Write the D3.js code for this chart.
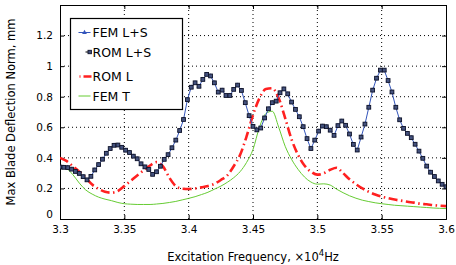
<!DOCTYPE html>
<html>
<head>
<meta charset="utf-8">
<script src="https://cdn.jsdelivr.net/npm/d3@7"></script>
<style>
  body { margin: 0; background: #fff; }
  text { font-family: "DejaVu Sans", sans-serif; fill: #000; }
</style>
</head>
<body>
<div id="chart"></div>
<script>
// frequency grid of the L+S sweeps (x10^4 Hz), step 0.003
var lsFreq = [3.300,3.303,3.306,3.309,3.312,3.315,3.318,3.321,3.324,3.327,
              3.330,3.333,3.336,3.339,3.342,3.345,3.348,3.351,3.354,3.357,
              3.360,3.363,3.366,3.369,3.372,3.375,3.378,3.381,3.384,3.387,
              3.390,3.393,3.396,3.399,3.402,3.405,3.408,3.411,3.414,3.417,
              3.420,3.423,3.426,3.429,3.432,3.435,3.438,3.441,3.444,3.447,
              3.450,3.453,3.456,3.459,3.462,3.465,3.468,3.471,3.474,3.477,
              3.480,3.483,3.486,3.489,3.492,3.495,3.498,3.501,3.504,3.507,
              3.510,3.513,3.516,3.519,3.522,3.525,3.528,3.531,3.534,3.537,
              3.540,3.543,3.546,3.549,3.552,3.555,3.558,3.561,3.564,3.567,
              3.570,3.573,3.576,3.579,3.582,3.585,3.588,3.591,3.594,3.597,3.600];

var femLS = [0.339,0.338,0.336,0.325,0.310,0.298,0.276,0.255,0.278,0.320,
             0.355,0.390,0.430,0.460,0.482,0.483,0.468,0.450,0.435,0.410,
             0.394,0.360,0.340,0.324,0.291,0.308,0.345,0.390,0.420,0.465,
             0.515,0.578,0.650,0.780,0.862,0.890,0.868,0.912,0.945,0.935,
             0.890,0.829,0.842,0.807,0.807,0.847,0.875,0.840,0.760,0.675,
             0.605,0.582,0.594,0.660,0.720,0.760,0.770,0.825,0.850,0.818,
             0.764,0.716,0.668,0.603,0.525,0.460,0.515,0.574,0.607,0.603,
             0.580,0.546,0.610,0.640,0.612,0.555,0.487,0.450,0.535,0.620,
             0.730,0.842,0.920,0.973,0.973,0.905,0.830,0.730,0.648,0.592,
             0.559,0.531,0.488,0.443,0.396,0.345,0.305,0.277,0.248,0.226,0.210];

var romLS = [0.340,0.338,0.336,0.326,0.311,0.298,0.277,0.256,0.279,0.321,
             0.356,0.391,0.430,0.461,0.482,0.484,0.469,0.450,0.435,0.411,
             0.394,0.361,0.341,0.324,0.292,0.309,0.345,0.390,0.421,0.466,
             0.516,0.579,0.651,0.781,0.862,0.891,0.868,0.913,0.946,0.936,
             0.891,0.830,0.843,0.808,0.808,0.848,0.876,0.841,0.761,0.676,
             0.606,0.583,0.595,0.661,0.721,0.761,0.771,0.826,0.851,0.819,
             0.765,0.717,0.669,0.604,0.526,0.461,0.516,0.575,0.608,0.604,
             0.581,0.547,0.611,0.641,0.613,0.556,0.488,0.451,0.536,0.621,
             0.731,0.843,0.921,0.974,0.974,0.906,0.831,0.731,0.649,0.593,
             0.560,0.532,0.489,0.444,0.397,0.346,0.306,0.278,0.249,0.227,0.211];

// frequency grid of the linear / thermal curves, step 0.005
var linFreq = [3.300,3.305,3.310,3.315,3.320,3.325,3.330,3.335,3.340,3.345,
               3.350,3.355,3.360,3.365,3.370,3.375,3.380,3.385,3.390,3.395,
               3.400,3.405,3.410,3.415,3.420,3.425,3.430,3.435,3.440,3.445,
               3.450,3.455,3.460,3.465,3.470,3.475,3.480,3.485,3.490,3.495,
               3.500,3.505,3.510,3.515,3.520,3.525,3.530,3.535,3.540,3.545,
               3.550,3.555,3.560,3.565,3.570,3.575,3.580,3.585,3.590,3.595,3.600];

var romL = [0.400,0.380,0.345,0.310,0.270,0.225,0.197,0.178,0.172,0.183,
            0.215,0.250,0.285,0.318,0.350,0.372,0.345,0.270,0.215,0.198,
            0.196,0.200,0.207,0.216,0.230,0.255,0.285,0.345,0.420,0.540,
            0.680,0.790,0.850,0.855,0.790,0.660,0.520,0.420,0.350,0.310,
            0.290,0.300,0.322,0.335,0.300,0.260,0.228,0.200,0.178,0.160,
            0.146,0.136,0.127,0.120,0.113,0.107,0.100,0.096,0.091,0.087,0.084];

var femT = [0.340,0.330,0.290,0.235,0.190,0.163,0.143,0.130,0.120,0.108,
            0.100,0.097,0.095,0.095,0.095,0.098,0.102,0.108,0.115,0.125,
            0.135,0.146,0.160,0.175,0.195,0.215,0.240,0.270,0.310,0.370,
            0.455,0.600,0.690,0.705,0.600,0.476,0.390,0.325,0.275,0.242,
            0.228,0.230,0.222,0.195,0.172,0.152,0.136,0.123,0.114,0.106,
            0.100,0.095,0.090,0.087,0.084,0.081,0.078,0.075,0.072,0.070,0.068];

var xTicks = [3.3, 3.35, 3.4, 3.45, 3.5, 3.55, 3.6];
var yTicks = [0, 0.2, 0.4, 0.6, 0.8, 1, 1.2];
var legendNames = ["FEM L+S", "ROM L+S", "ROM L", "FEM T"];

var width = 456, height = 265;
var margin = {left: 60, right: 10, top: 5, bottom: 46};

var svg = d3.select("#chart").append("svg")
    .attr("width", width)
    .attr("height", height);

var x = d3.scaleLinear().domain([3.3, 3.6]).range([margin.left, width - margin.right]);
var y = d3.scaleLinear().domain([0, 1.4]).range([height - margin.bottom, margin.top]);

var x0 = x.range()[0], x1 = x.range()[1];
var y0 = y.range()[0], y1 = y.range()[1];

// dotted grid
svg.append("g").selectAll("line")
    .data(xTicks.slice(1, -1))
    .join("line")
    .attr("x1", d => x(d)).attr("x2", d => x(d))
    .attr("y1", y0).attr("y2", y1)
    .attr("stroke", "#000").attr("stroke-width", 1)
    .attr("stroke-dasharray", "1,3");

svg.append("g").selectAll("line")
    .data(yTicks.slice(1))
    .join("line")
    .attr("x1", x0).attr("x2", x1)
    .attr("y1", d => y(d)).attr("y2", d => y(d))
    .attr("stroke", "#000").attr("stroke-width", 1)
    .attr("stroke-dasharray", "1,3");

// axes, ticks inside
var xAxis = svg.append("g")
    .attr("transform", `translate(0, ${y0})`)
    .call(d3.axisBottom(x).tickValues(xTicks).tickSize(-4).tickPadding(7)
          .tickFormat(d3.format("")));
var yAxis = svg.append("g")
    .attr("transform", `translate(${x0}, 0)`)
    .call(d3.axisLeft(y).tickValues(yTicks).tickSize(-4).tickPadding(7)
          .tickFormat(d3.format("")));
svg.append("g")
    .attr("transform", `translate(0, ${y1})`)
    .call(d3.axisTop(x).tickValues(xTicks).tickSize(-4).tickFormat(""));
svg.append("g")
    .attr("transform", `translate(${x1}, 0)`)
    .call(d3.axisRight(y).tickValues(yTicks).tickSize(-4).tickFormat(""));

svg.selectAll(".domain").attr("stroke", "#000");
svg.selectAll(".tick text").style("font-size", "10.5px");
yAxis.select(".tick text").attr("dy", "-0.1em");

// curves
var smooth = d3.line().x(d => x(d[0])).y(d => y(d[1])).curve(d3.curveMonotoneX);
var straight = d3.line().x(d => x(d[0])).y(d => y(d[1]));

svg.append("clipPath").attr("id", "plotclip")
    .append("rect").attr("x", x0).attr("y", y1).attr("width", x1 - x0).attr("height", y0 - y1);

var plot = svg.append("g").attr("clip-path", "url(#plotclip)");

plot.append("path")
    .datum(d3.zip(linFreq, femT))
    .attr("fill", "none").attr("stroke", "#66cc33").attr("stroke-width", 1)
    .attr("d", smooth);

plot.append("path")
    .datum(d3.zip(linFreq, romL))
    .attr("fill", "none").attr("stroke", "#ff2020").attr("stroke-width", 2.6)
    .attr("stroke-dasharray", "9,3.5,1.5,3.5")
    .attr("d", smooth);

plot.append("path")
    .datum(d3.zip(lsFreq, femLS))
    .attr("fill", "none").attr("stroke", "#3355bb").attr("stroke-width", 1)
    .attr("d", straight);

var star = d3.symbol().type(d3.symbolTriangle).size(10);
plot.append("g").selectAll("path")
    .data(d3.zip(lsFreq, femLS))
    .join("path")
    .attr("transform", d => `translate(${x(d[0])}, ${y(d[1])})`)
    .attr("d", star)
    .attr("fill", "#3355bb");

plot.append("g").selectAll("rect")
    .data(d3.zip(lsFreq, romLS))
    .join("rect")
    .attr("x", d => x(d[0]) - 1.9).attr("y", d => y(d[1]) - 1.9)
    .attr("width", 3.8).attr("height", 3.8)
    .attr("fill", "#44527e").attr("stroke", "#0e1228").attr("stroke-width", 0.9);

// legend
var lg = svg.append("g").attr("transform", "translate(70.5, 18.5)");
lg.append("rect").attr("width", 112).attr("height", 91)
    .attr("fill", "#fff").attr("stroke", "#000").attr("stroke-width", 1.2);

var rowY = [14, 33.5, 58, 77.5];
legendNames.forEach(function(name, i) {
    var row = lg.append("g").attr("transform", `translate(0, ${rowY[i]})`);
    if (i == 0) {
        row.append("line").attr("x1", 8).attr("x2", 20)
            .attr("stroke", "#3355bb").attr("stroke-width", 1);
        row.append("path").attr("transform", "translate(14, 0)")
            .attr("d", star).attr("fill", "#3355bb");
    } else if (i == 1) {
        row.append("line").attr("x1", 15).attr("x2", 19)
            .attr("stroke", "#000").attr("stroke-width", 1);
        row.append("rect").attr("x", 17.5).attr("y", -1.7).attr("width", 3.4).attr("height", 3.4)
            .attr("fill", "#44527e").attr("stroke", "#0e1228").attr("stroke-width", 0.9);
    } else if (i == 2) {
        row.append("line").attr("x1", 9).attr("x2", 21)
            .attr("stroke", "#ff2020").attr("stroke-width", 2.6)
            .attr("stroke-dasharray", "1,3,8,3");
    } else {
        row.append("line").attr("x1", 8).attr("x2", 20)
            .attr("stroke", "#66cc33").attr("stroke-width", 1);
    }
    row.append("text").attr("x", 22).attr("dy", "0.36em")
        .style("font-size", "12.5px").text(name);
});

// axis labels
var xl = svg.append("text")
    .attr("x", (x0 + x1) / 2).attr("y", 261)
    .attr("text-anchor", "middle").style("font-size", "11.5px");
xl.append("tspan").text("Excitation Frequency, ");
xl.append("tspan").text("\u00d710");
xl.append("tspan").attr("dy", "-5").style("font-size", "8.5px").text("4");
xl.append("tspan").attr("dy", "5").text("Hz");

svg.append("text")
    .attr("transform", `translate(15, ${(y0 + y1) / 2}) rotate(-90)`)
    .attr("text-anchor", "middle").style("font-size", "11.5px")
    .text("Max Blade Deflection Norm, mm");
</script>
</body>
</html>
